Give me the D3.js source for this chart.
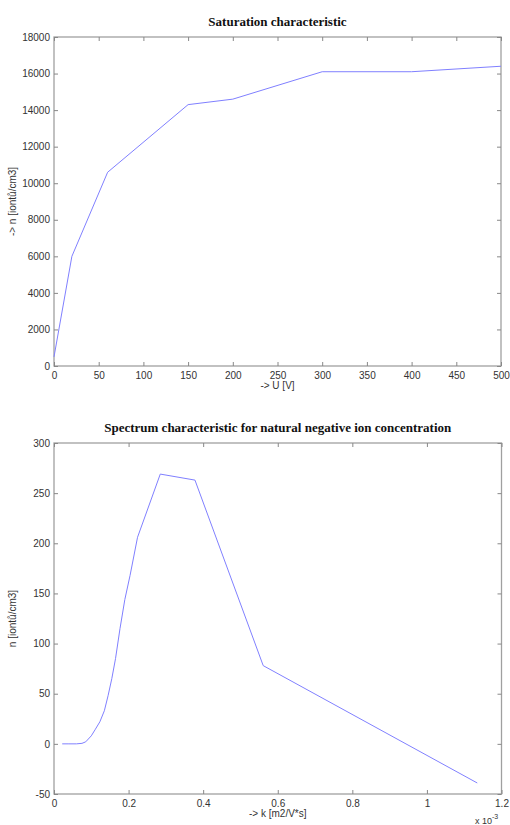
<!DOCTYPE html>
<html>
<head>
<meta charset="utf-8">
<script src="https://cdn.jsdelivr.net/npm/d3@7"></script>
<style>
  body { margin: 0; background: #fff; }
  .tick text { font-family: "Liberation Sans", Arial, sans-serif; font-size: 10px; fill: #333; }
  .lbl { font-family: "Liberation Sans", Arial, sans-serif; font-size: 10px; fill: #333; }
  .title { font-family: "Liberation Serif", "Times New Roman", serif; font-size: 13px; font-weight: bold; fill: #111; }
</style>
</head>
<body>
<div id="chart"></div>
<script>
// saturation characteristic
const satU = [0, 20, 60, 150, 200, 300, 400, 500];
const satN = [500, 6000, 10600, 14300, 14600, 16100, 16100, 16400];
const satXTicks = [0, 50, 100, 150, 200, 250, 300, 350, 400, 450, 500];
const satYTicks = [0, 2000, 4000, 6000, 8000, 10000, 12000, 14000, 16000, 18000];

// spectrum characteristic (k in 1e-3 m2/V*s)
const specK = [0.022, 0.04, 0.06, 0.075, 0.085, 0.1, 0.11, 0.123, 0.135, 0.145, 0.155, 0.165, 0.177, 0.19, 0.204, 0.224, 0.285, 0.378, 0.561, 1.135];
const specN = [0, 0, 0, 0.5, 2, 8, 14, 22, 33, 48, 65, 85, 115, 144, 168, 206, 269, 263, 78, -39];
const specXTicks = [0, 0.2, 0.4, 0.6, 0.8, 1, 1.2];
const specYTicks = [-50, 0, 50, 100, 150, 200, 250, 300];

const W = 510, H = 825;
const svg = d3.select("#chart").append("svg")
    .attr("width", W)
    .attr("height", H);

// plain numbers, hyphen minus, no thousands separator
const plain = d => String(d);

function drawPanel(opt) {
    const x = d3.scaleLinear().domain(opt.xDomain).range([opt.left, opt.right]);
    const y = d3.scaleLinear().domain(opt.yDomain).range([opt.bottom, opt.top]);
    const g = svg.append("g");

    // box
    g.append("rect")
        .attr("x", opt.left).attr("y", opt.top)
        .attr("width", opt.right - opt.left).attr("height", opt.bottom - opt.top)
        .attr("fill", "#fff").attr("stroke", "#a0a0a0").attr("stroke-width", 1.3);

    const ax = (a, tr) => g.append("g").attr("transform", tr).call(a)
        .call(s => s.select(".domain").remove())
        .call(s => s.selectAll(".tick line").attr("stroke", "#888"));

    ax(d3.axisBottom(x).tickValues(opt.xTicks).tickSize(-4).tickPadding(6).tickFormat(plain),
        `translate(0,${opt.bottom})`);
    ax(d3.axisTop(x).tickValues(opt.xTicks).tickSize(-4).tickFormat(""),
        `translate(0,${opt.top})`);
    ax(d3.axisLeft(y).tickValues(opt.yTicks).tickSize(-4).tickPadding(4).tickFormat(plain),
        `translate(${opt.left},0)`);
    ax(d3.axisRight(y).tickValues(opt.yTicks).tickSize(-4).tickFormat(""),
        `translate(${opt.right},0)`);

    const line = d3.line()
        .x((d, i) => x(opt.xs[i]))
        .y(d => y(d));
    g.append("path")
        .datum(opt.ys)
        .attr("d", line)
        .attr("fill", "none")
        .attr("stroke", "#8080ff")
        .attr("stroke-width", 1);

    const cx = (opt.left + opt.right) / 2;
    g.append("text").attr("class", "title")
        .attr("x", cx).attr("y", opt.top - 11)
        .attr("text-anchor", "middle").text(opt.title);
    g.append("text").attr("class", "lbl")
        .attr("x", cx).attr("y", opt.bottom + 23)
        .attr("text-anchor", "middle").text(opt.xLabel);
    g.append("text").attr("class", "lbl")
        .attr("transform", `translate(16,${(opt.top + opt.bottom) / 2}) rotate(-90)`)
        .attr("text-anchor", "middle").text(opt.yLabel);
    return g;
}

drawPanel({
    left: 54, right: 501, top: 37, bottom: 366,
    xDomain: [0, 500], yDomain: [0, 18000],
    xTicks: satXTicks, yTicks: satYTicks,
    xs: satU, ys: satN,
    title: "Saturation characteristic",
    xLabel: "-> U [V]",
    yLabel: "-> n [iontů/cm3]"
});

const p2 = drawPanel({
    left: 54, right: 501.5, top: 443, bottom: 794,
    xDomain: [0, 1.2], yDomain: [-50, 300],
    xTicks: specXTicks, yTicks: specYTicks,
    xs: specK, ys: specN,
    title: "Spectrum characteristic for natural negative ion concentration",
    xLabel: "-> k [m2/V*s]",
    yLabel: "n [iontů/cm3]"
});

// exponent note
const ex = p2.append("text").attr("class", "lbl")
    .attr("x", 475).attr("y", 824).style("font-size", "9px");
ex.append("tspan").text("x 10");
ex.append("tspan").attr("dy", -5).style("font-size", "7px").text("-3");
</script>
</body>
</html>
